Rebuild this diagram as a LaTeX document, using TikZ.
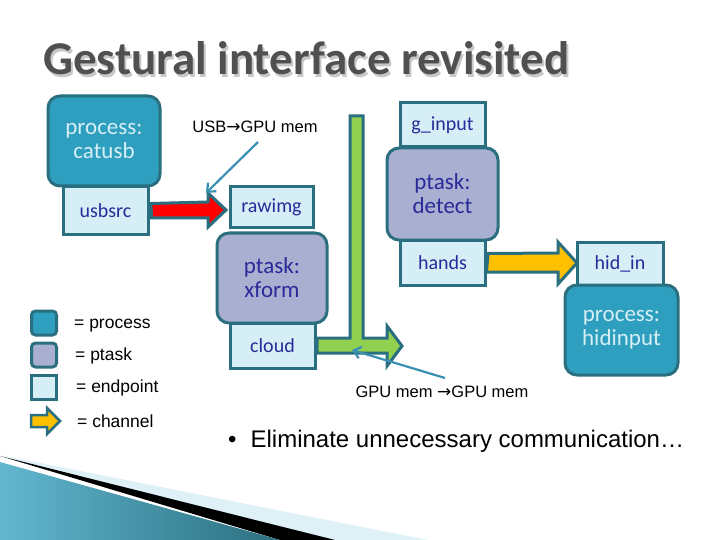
\documentclass[tikz,border=0pt]{standalone}
\usepackage{fontspec}
\setmainfont{Carlito}
\newfontfamily\arialf{Liberation Sans}
\newfontfamily\symf{DejaVu Sans}
\usetikzlibrary{arrows.meta}
\definecolor{proc}{HTML}{2E9FBF}
\definecolor{pt}{HTML}{A9AFD0}
\definecolor{ep}{HTML}{D6EEF5}
\definecolor{bord}{HTML}{2A6F80}
\definecolor{txt}{HTML}{2A2A9A}
\definecolor{ptr}{HTML}{3A90B0}
\definecolor{ttl}{HTML}{505050}
\definecolor{grn}{HTML}{92D050}
\definecolor{ylw}{HTML}{FFC000}
\begin{document}
\begin{tikzpicture}[x=1pt,y=-1pt,
 box/.style={draw=bord,line width=3pt,inner sep=0pt,align=center,font=\fontsize{20}{21}\selectfont,text=txt},
 procbox/.style={box,fill=proc,rounded corners=12pt,text=ep,font=\fontsize{23}{24}\selectfont},
 ptbox/.style={box,fill=pt,rounded corners=12pt,font=\fontsize{23}{24}\selectfont},
 epbox/.style={box,fill=ep},
 chan/.style={draw=bord,line width=3pt,line join=miter},
 ptrline/.style={draw=ptr,line width=2.2pt,-{Straight Barb[length=7pt,width=12pt]}},
 lbl/.style={font=\arialf\fontsize{17.5}{19}\selectfont,anchor=west,inner sep=0pt}]
\useasboundingbox (0,0) rectangle (720,540);
\fill[white] (0,0) rectangle (720,540);
% swoosh
\fill[ep!80!white] (0,455) -- (428,540) -- (300,540) -- cycle;
\fill[black] (0,456) -- (335,540) -- (280,540) -- cycle;
\shade[left color=proc!75!white,right color=bord] (0,462) -- (280,540) -- (0,540) -- cycle;
% title
\node[anchor=west,text=black!22,inner sep=0pt,font=\bfseries\fontsize{47}{50}\selectfont] at (45,61) {Gestural interface revisited};
\node[anchor=west,text=ttl,inner sep=0pt,font=\bfseries\fontsize{47}{50}\selectfont] (title) at (43,58) {Gestural interface revisited};
% green channel
\draw[chan,fill=grn] (350,116) -- (363,116) -- (363,338) -- (387,338) -- (387,326) -- (402,346) -- (387,366) -- (387,353) -- (317,353) -- (317,338) -- (350,338) -- cycle;
% boxes
\node[procbox,minimum width=112pt,minimum height=90pt] (catusb) at (104,141) {process:\\catusb};
\node[epbox,minimum width=85pt,minimum height=47pt] (usbsrc) at (105.5,210.5) {usbsrc};
\node[epbox,minimum width=83pt,minimum height=41pt] (rawimg) at (271.5,207.5) {rawimg};
\node[ptbox,minimum width=110pt,minimum height=90pt] (xform) at (272,278) {ptask:\\xform};
\node[epbox,minimum width=85pt,minimum height=45pt] (cloud) at (272.5,345.5) {cloud};
\node[epbox,minimum width=85pt,minimum height=44pt] (ginput) at (442.5,125) {g\_input};
\node[ptbox,minimum width=111pt,minimum height=92pt] (detect) at (442.5,194) {ptask:\\detect};
\node[epbox,minimum width=85pt,minimum height=45pt] (hands) at (442.5,262.5) {hands};
\node[epbox,minimum width=86pt,minimum height=43pt] (hidin) at (620,263.5) {hid\_in};
\node[procbox,minimum width=113pt,minimum height=90pt] (hidinput) at (621.5,330) {process:\\hidinput};
% red channel
\draw[chan,fill=red] (usbsrc.east) ++(1.5,-7) -- (208,202) -- (208,193) -- (226,210) -- (208,227) -- (208,218) -- (151.5,218) -- cycle;
% yellow channel
\draw[chan,fill=ylw] (hands.east) ++(1.5,-9) -- (558,253) -- (558,242) -- (577,263) -- (558,284) -- (558,272) -- (486.5,272) -- cycle;
% labels
\node[font=\arialf\fontsize{16.5}{18}\selectfont,inner sep=0pt] (usbgpu) at (255,127) {USB{\symf\fontsize{17}{18}\selectfont →}GPU mem};
\coordinate (p1) at (258,142);
\draw[ptrline] (p1) -- (206,193);
\node[font=\arialf\fontsize{16.5}{18}\selectfont,inner sep=0pt] (gpugpu) at (442,392) {GPU mem {\symf\fontsize{17}{18}\selectfont →}GPU mem};
\coordinate (p2) at (445,378);
\coordinate (p3) at (352,350);
\draw[ptrline] (p2) -- (p3);
% legend
\node[draw=bord,line width=3pt,fill=proc,rounded corners=4pt,minimum width=25pt,minimum height=24pt,inner sep=0pt] (lp) at (44,323) {};
\node[draw=bord,line width=3pt,fill=pt,rounded corners=4pt,minimum width=25pt,minimum height=24pt,inner sep=0pt] (lt) at (44,355) {};
\node[draw=bord,line width=3pt,fill=ep,minimum width=25pt,minimum height=24pt,inner sep=0pt] (le) at (44,387) {};
\draw[chan,fill=ylw,line width=2.5pt] (31,415) -- (47,415) -- (47,408) -- (60,421) -- (47,434) -- (47,427) -- (31,427) -- cycle;
\node[lbl] (t1) at (74,326) {= process};
\node[lbl] (t2) at (75,356) {= ptask};
\node[lbl] (t3) at (76,388) {= endpoint};
\node[lbl] (t4) at (77,421) {= channel};
\node[font=\arialf\fontsize{24}{26}\selectfont,anchor=west,inner sep=0pt] (bul) at (228,441) {\textbullet\hspace{14pt}Eliminate unnecessary communication…};
\end{tikzpicture}
\end{document}
